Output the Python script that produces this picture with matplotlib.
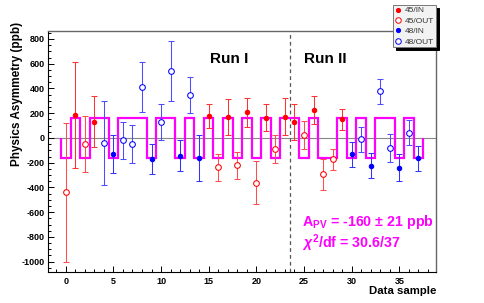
import numpy as np
import matplotlib.pyplot as plt
from matplotlib.lines import Line2D
from matplotlib.ticker import MultipleLocator

plt.rcParams['font.family'] = ['Liberation Sans', 'DejaVu Sans']
plt.rcParams['font.weight'] = 'bold'
plt.rcParams['axes.unicode_minus'] = False
plt.rcParams['mathtext.fontset'] = 'custom'
plt.rcParams['mathtext.rm'] = 'Liberation Sans:bold'
plt.rcParams['mathtext.bf'] = 'Liberation Sans:bold'
plt.rcParams['mathtext.it'] = 'Liberation Sans:bold:italic'

# data (ppb)
samples = list(range(38))
groups = ['45/OUT', '45/IN', '45/OUT', '45/IN', '48/OUT', '48/IN', '48/OUT', '48/OUT',
          '48/OUT', '48/IN', '48/OUT', '48/OUT', '48/IN', '48/OUT', '48/IN', '45/IN',
          '45/OUT', '45/IN', '45/OUT', '45/IN', '45/OUT', '45/IN', '45/OUT', '45/IN',
          '45/IN', '45/OUT', '45/IN', '45/OUT', '45/OUT', '45/IN', '48/IN', '48/OUT',
          '48/IN', '48/OUT', '48/OUT', '48/IN', '48/OUT', '48/IN']
asym = [-440, 186, -50, 133, -38, -128, -18, -48, 410, -170, 128, 543, -142, 350, -163, 176,
        -236, 170, -222, 206, -362, 163, -90, 172, 130, 26, 224, -292, -173, 150, -130, -10,
        -223, 376, -82, -241, 44, -163]
asym_err = [560, 426, 225, 210, 340, 155, 150, 152, 203, 122, 144, 244, 128, 145, 186, 96,
            110, 145, 110, 115, 175, 110, 111, 148, 144, 115, 112, 125, 84, 85, 101, 101,
            101, 102, 112, 110, 101, 101]
# sign of the fitted square wave for each sample
model_sign = [-1, 1, -1, 1, 1, -1, 1, 1, 1, -1, 1, 1, -1, 1, -1, 1, -1, 1, -1, 1, -1, 1, -1,
              1, 1, -1, 1, -1, -1, 1, -1, 1, -1, 1, 1, -1, 1, -1]
model_level = 160
run_split = 23.5

legend_order = ['45/IN', '45/OUT', '48/IN', '48/OUT']
# marker colour, error bar colour, filled marker
styles = {'45/IN': ('#ff0000', '#ff3333', True),
          '45/OUT': ('#ff0000', '#ff4d4d', False),
          '48/IN': ('#0000ff', '#3333ff', True),
          '48/OUT': ('#0000ff', '#4d4dff', False)}


def draw_points(ax):
    for name in legend_order:
        color, ecolor, filled = styles[name]
        idx = [i for i, g in enumerate(groups) if g == name]
        x = [samples[i] for i in idx]
        y = [asym[i] for i in idx]
        e = [asym_err[i] for i in idx]
        ax.errorbar(x, y, yerr=e, fmt='o', color=color, ecolor=ecolor,
                    elinewidth=0.75, capsize=1.9, capthick=0.75,
                    markersize=3.2 if filled else 4.1,
                    mfc=color if filled else 'white', mec=color, mew=0.75, zorder=4)


def set_plotting_detail(ax):
    ax.set_xlim(-1.83, 38.85)
    ax.set_ylim(-1081, 867)
    ax.xaxis.set_major_locator(MultipleLocator(5))
    ax.xaxis.set_minor_locator(MultipleLocator(1))
    ax.yaxis.set_major_locator(MultipleLocator(200))
    ax.yaxis.set_minor_locator(MultipleLocator(50))
    ax.tick_params(which='both', direction='in', top=False, right=False, labelsize=6.5)
    ax.tick_params(which='major', length=4.5, width=0.7)
    ax.tick_params(which='minor', length=2.3, width=0.7)
    ax.tick_params(axis='x', pad=4.0)
    ax.tick_params(axis='y', pad=2.3)
    for side in ['left', 'bottom']:
        ax.spines[side].set_color('black')
        ax.spines[side].set_linewidth(0.8)
    for side in ['top', 'right']:
        ax.spines[side].set_color('#666666')
        ax.spines[side].set_linewidth(1.0)


fig = plt.figure(figsize=(4.85, 3.03), dpi=100)
ax = fig.add_axes([48.3 / 485, 1 - 271.7 / 303, (436 - 48.3) / 485, (271.7 - 30.7) / 303])

ax.axhline(0, color='#888888', lw=0.8, zorder=1)
ax.axvline(run_split, color='#555555', lw=0.9, dashes=(3, 2.5), zorder=1)

# fitted square wave
model = [model_level * s for s in model_sign]
edges = np.arange(len(samples) + 1) - 0.5
ax.stairs(model, edges, baseline=0, color='#ff00ff', lw=1.6, zorder=3)

draw_points(ax)
set_plotting_detail(ax)

ax.text(15.16, 638, 'Run I', fontsize=11, ha='left', va='center')
ax.text(25.0, 638, 'Run II', fontsize=11, ha='left', va='center')
ax.text(24.76, -677, r'$\mathbf{A_{PV}}$ = -160 ± 21 ppb', fontsize=10.3, color='#ff00ff',
        ha='left', va='center')
ax.text(24.76, -851, r'$\chi^{2}$/df = 30.6/37', fontsize=10.3, color='#ff00ff',
        ha='left', va='center')

fig.text(436.7 / 485, 1 - 291.5 / 303, 'Data sample', fontsize=8.2, ha='right', va='center')
fig.text(17 / 485, 1 - 22 / 303, 'Physics Asymmetry (ppb)', fontsize=8.5, rotation=90,
         ha='center', va='top')

handles = []
for name in legend_order:
    color, ecolor, filled = styles[name]
    handles.append(Line2D([], [], ls='none', marker='o', color=color,
                          markersize=3.0 if filled else 4.0,
                          mfc=color if filled else 'white', mec=color, mew=0.7))
leg = ax.legend(handles, legend_order, loc='upper right',
                bbox_to_anchor=(436 / 485, 1 - 5 / 303), bbox_transform=fig.transFigure,
                fontsize=6, handlelength=0.8, handletextpad=0.4, borderpad=0.2,
                labelspacing=0.3, borderaxespad=0, fancybox=False,
                shadow={'color': 'black', 'alpha': 1}, framealpha=1)
leg.get_frame().set_facecolor('#f2f2f2')
leg.get_frame().set_edgecolor('#777777')
leg.get_frame().set_linewidth(0.7)
for t in leg.get_texts():
    t.set_color('#333333')
    t.set_fontweight('normal')

fig.savefig('out.png', dpi=100)
